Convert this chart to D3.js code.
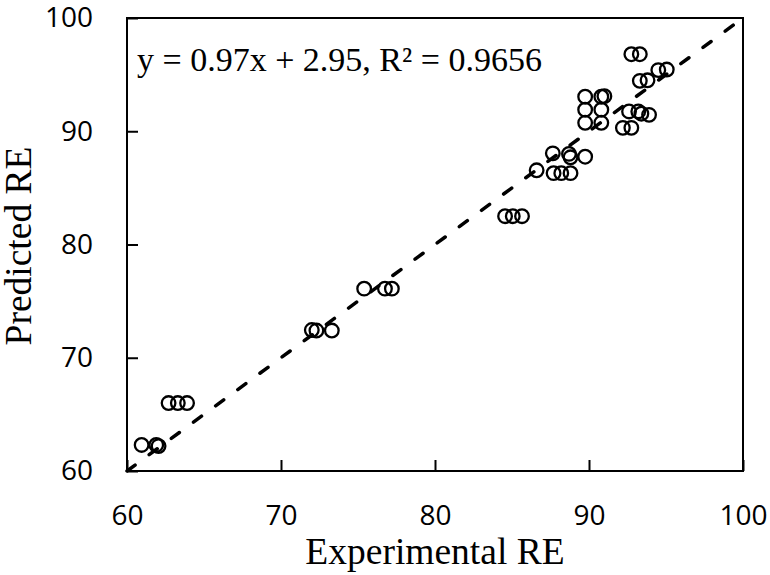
<!DOCTYPE html>
<html>
<head>
<meta charset="utf-8">
<script src="https://cdn.jsdelivr.net/npm/d3@7"></script>
<style>
  body { margin: 0; background: #fff; }
  .tick text { font-family: "Open Sans", sans-serif; font-size: 28px; fill: #000; }
  .title { font-family: "Liberation Serif", "Times New Roman", serif; fill: #000; }
</style>
</head>
<body>
<div id="chart"></div>
<script>
// experimental vs predicted removal efficiency
var experimental = [60.95, 61.9, 62.05, 62.7, 63.3, 63.9, 72.0, 72.3, 73.3, 75.4, 76.75, 77.2,
  84.55, 85.05, 85.65, 86.6, 87.7, 88.2, 88.8, 87.65, 88.7, 88.8, 89.75,
  89.75, 89.75, 89.75, 90.8, 91.0, 90.8, 90.8, 92.2, 92.75, 92.6, 93.2, 93.4, 93.9,
  92.75, 93.3, 93.3, 93.8, 94.5, 95.05];
var predicted = [62.3, 62.3, 62.2, 66.0, 66.0, 66.0, 72.45, 72.4, 72.4, 76.1, 76.1, 76.1,
  82.5, 82.5, 82.5, 86.55, 86.3, 86.3, 86.3, 88.05, 88.0, 87.7, 87.75,
  93.05, 91.9, 90.75, 93.05, 93.1, 91.9, 90.75, 90.3, 90.3, 91.75, 91.75, 91.55, 91.45,
  96.8, 96.8, 94.45, 94.5, 95.4, 95.45];
var xTicks = [60, 70, 80, 90, 100];
var yTicks = [60, 70, 80, 90, 100];
var equation = "y = 0.97x + 2.95, R\u00b2 = 0.9656";

var width = 770, height = 575;
var plotLeft = 127, plotRight = 743, plotTop = 18, plotBottom = 471;

var x = d3.scaleLinear().domain([60, 100]).range([plotLeft, plotRight]);
var y = d3.scaleLinear().domain([60, 100]).range([plotBottom, plotTop]);

var svg = d3.select("#chart")
  .append("svg")
  .attr("width", width)
  .attr("height", height);

// frame
svg.append("rect")
  .attr("x", plotLeft)
  .attr("y", plotTop)
  .attr("width", plotRight - plotLeft)
  .attr("height", plotBottom - plotTop)
  .attr("fill", "none")
  .attr("stroke", "#000")
  .attr("stroke-width", 2);

var xAxis = svg.append("g")
  .attr("transform", "translate(0," + plotBottom + ")")
  .call(d3.axisBottom(x).tickValues(xTicks).tickSizeInner(-11).tickSizeOuter(0));
xAxis.select(".domain").remove();
xAxis.selectAll(".tick line").attr("stroke-width", 2);
xAxis.selectAll(".tick text").attr("y", 34).attr("dy", "0.71em");

var yAxis = svg.append("g")
  .attr("transform", "translate(" + plotLeft + ",0)")
  .call(d3.axisLeft(y).tickValues(yTicks).tickSizeInner(-11).tickSizeOuter(0));
yAxis.select(".domain").remove();
yAxis.selectAll(".tick line").attr("stroke-width", 2);
yAxis.selectAll(".tick text").attr("x", -34);

// y = x reference line
svg.append("line")
  .attr("x1", x(60))
  .attr("y1", y(60))
  .attr("x2", x(100))
  .attr("y2", y(100))
  .attr("stroke", "#000")
  .attr("stroke-width", 3.5)
  .attr("stroke-linecap", "round")
  .attr("stroke-dasharray", "10,17.5");

svg.selectAll("circle.pt")
  .data(experimental)
  .enter()
  .append("circle")
  .attr("class", "pt")
  .attr("cx", function(d) { return x(d); })
  .attr("cy", function(d, i) { return y(predicted[i]); })
  .attr("r", 6.8)
  .attr("fill", "none")
  .attr("stroke", "#000")
  .attr("stroke-width", 2.3);

svg.append("text")
  .attr("class", "title")
  .attr("x", 137)
  .attr("y", 71)
  .style("font-size", "34px")
  .text(equation);

svg.append("text")
  .attr("class", "title")
  .attr("x", 435)
  .attr("y", 564)
  .attr("text-anchor", "middle")
  .style("font-size", "37.5px")
  .text("Experimental RE");

svg.append("text")
  .attr("class", "title")
  .attr("transform", "translate(31,246) rotate(-90)")
  .attr("text-anchor", "middle")
  .style("font-size", "37.5px")
  .text("Predicted RE");
</script>
</body>
</html>
